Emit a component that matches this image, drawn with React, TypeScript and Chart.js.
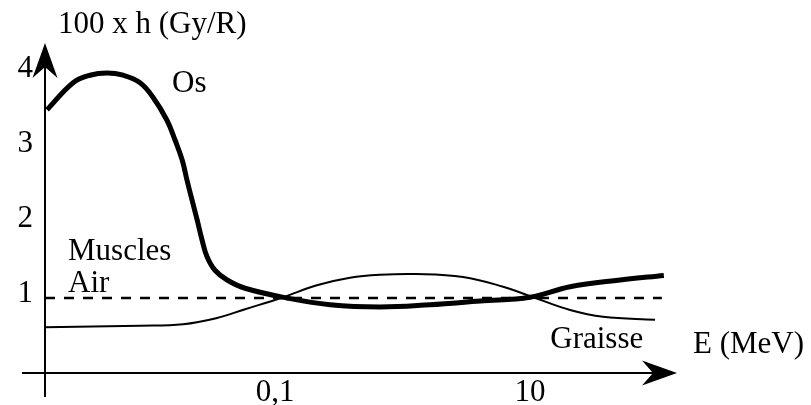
import React, { useEffect, useRef } from "react";
import { Chart, registerables } from "chart.js";

Chart.register(...registerables);

// ---- data (energies in MeV, values = 100 x h in Gy/R) ----
const osEnergy = [0.00163, 0.00261, 0.00354, 0.00481, 0.00643, 0.00873, 0.011, 0.0142, 0.0164, 0.0187, 0.0204, 0.0223, 0.0245, 0.0268, 0.0293, 0.0338, 0.0421, 0.0582, 0.124, 0.27, 0.667, 1.64, 4.06, 10, 20.6, 50.8, 112];
const osValues = [3.51, 3.87, 3.97, 4.0, 3.97, 3.87, 3.68, 3.37, 3.11, 2.84, 2.57, 2.31, 2.04, 1.77, 1.55, 1.37, 1.24, 1.13, 1.0, 0.91, 0.88, 0.91, 0.96, 1.01, 1.15, 1.24, 1.3];

const graisseEnergy = [0.00157, 0.00873, 0.019, 0.0345, 0.0582, 0.116, 0.213, 0.387, 0.667, 1.28, 2.98, 6.14, 10.6, 20.6, 37.4, 95.5];
const graisseValues = [0.61, 0.63, 0.65, 0.73, 0.85, 1.01, 1.17, 1.27, 1.31, 1.32, 1.28, 1.15, 1.01, 0.84, 0.75, 0.71];

const airEnergy = [0.00157, 108];
const airValues = [1, 1];

const xTickValues = [0.1, 10];
const xTickLabels = ["0,1", "10"];
const yTickValues = [1, 2, 3, 4];

const xMin = 0.00157;
const xMax = 142;
const yMin = 0;
const yMax = 4.373;

const FONT = "'Liberation Serif', 'Times New Roman', serif";
const FS = 31;

const toPoints = (xs: number[], ys: number[]) => xs.map((x, i) => ({ x, y: ys[i] }));

const axesPlugin = {
  id: "axesArrows",
  beforeDatasetsDraw(chart: any) {
    const { ctx, chartArea } = chart;
    const { left, right, top, bottom } = chartArea;
    ctx.save();
    ctx.strokeStyle = "#000";
    ctx.fillStyle = "#000";
    ctx.lineWidth = 2;
    // y axis
    ctx.beginPath();
    ctx.moveTo(left, bottom + 24);
    ctx.lineTo(left, top + 20);
    ctx.stroke();
    // x axis
    ctx.beginPath();
    ctx.moveTo(left - 23, bottom);
    ctx.lineTo(right - 20, bottom);
    ctx.stroke();
    // arrowheads
    const arrow = (tx: number, ty: number, dx: number, dy: number) => {
      const len = 35, half = 12.5, notch = 24;
      const px = -dy, py = dx;
      ctx.beginPath();
      ctx.moveTo(tx, ty);
      ctx.lineTo(tx - dx * len + px * half, ty - dy * len + py * half);
      ctx.lineTo(tx - dx * notch, ty - dy * notch);
      ctx.lineTo(tx - dx * len - px * half, ty - dy * len - py * half);
      ctx.closePath();
      ctx.fill();
    };
    arrow(left, top - 2, 0, -1);
    arrow(right, bottom, 1, 0);
    ctx.restore();
  },
  afterDraw(chart: any) {
    const { ctx, chartArea, scales } = chart;
    const xs = scales.x, ys = scales.y;
    ctx.save();
    ctx.fillStyle = "#000";
    ctx.font = `${FS}px ${FONT}`;
    ctx.textBaseline = "alphabetic";
    ctx.textAlign = "left";
    // axis titles
    ctx.fillText("100 x h (Gy/R)", chartArea.left + 13, chartArea.top - 12);
    ctx.fillText("E (MeV)", chartArea.right + 16, chartArea.bottom - 20);
    // curve labels (anchored in data space)
    ctx.fillText("Os", xs.getPixelForValue(0.01556), ys.getPixelForValue(3.747));
    ctx.fillText("Muscles", xs.getPixelForValue(0.00238), ys.getPixelForValue(1.507));
    ctx.fillText("Air", xs.getPixelForValue(0.00238), ys.getPixelForValue(1.08));
    ctx.fillText("Graisse", xs.getPixelForValue(14.4), ys.getPixelForValue(0.333));
    ctx.restore();
  },
};

export default function App() {
  const ref = useRef<HTMLCanvasElement | null>(null);

  useEffect(() => {
    if (!ref.current) return;
    const chart = new Chart(ref.current, {
      type: "line",
      data: {
        datasets: [
          {
            label: "Os",
            data: toPoints(osEnergy, osValues),
            borderColor: "#000",
            borderWidth: 5,
            pointRadius: 0,
            tension: 0.4,
            fill: false,
            clip: false,
          },
          {
            label: "Graisse",
            data: toPoints(graisseEnergy, graisseValues),
            borderColor: "#000",
            borderWidth: 2,
            pointRadius: 0,
            tension: 0.4,
            fill: false,
            clip: false,
          },
          {
            label: "Muscles / Air",
            data: toPoints(airEnergy, airValues),
            borderColor: "#000",
            borderWidth: 2.5,
            borderDash: [10, 9],
            pointRadius: 0,
            fill: false,
            clip: false,
          },
        ],
      },
      options: {
        responsive: false,
        animation: false,
        events: [],
        layout: { padding: { left: 0, top: 45, right: 134, bottom: 0 } },
        plugins: {
          legend: { display: false },
          tooltip: { enabled: false },
          title: { display: false },
        },
        scales: {
          x: {
            type: "logarithmic",
            min: xMin,
            max: xMax,
            grid: { display: false, drawTicks: false },
            border: { display: false },
            afterFit: (s: any) => {
              s.height = 32;
            },
            afterBuildTicks: (s: any) => {
              s.ticks = xTickValues.map((v) => ({ value: v }));
            },
            ticks: {
              autoSkip: false,
              maxRotation: 0,
              padding: 1,
              color: "#000",
              font: { family: FONT, size: FS },
              callback: (v: any) => {
                const i = xTickValues.indexOf(Number(v));
                return i >= 0 ? xTickLabels[i] : "";
              },
            },
          },
          y: {
            type: "linear",
            min: yMin,
            max: yMax,
            grid: { display: false, drawTicks: false },
            border: { display: false },
            afterFit: (s: any) => {
              s.width = 45;
            },
            afterBuildTicks: (s: any) => {
              s.ticks = yTickValues.map((v) => ({ value: v }));
            },
            ticks: {
              autoSkip: false,
              padding: 12,
              labelOffset: -4,
              color: "#000",
              font: { family: FONT, size: FS },
              callback: (v: any) => String(v),
            },
          },
        },
      },
      plugins: [axesPlugin],
    } as any);
    return () => chart.destroy();
  }, []);

  return (
    <div style={{ position: "fixed", left: 0, top: 0, width: 811, height: 405, background: "#fff" }}>
      <canvas ref={ref} width={811} height={405} />
    </div>
  );
}
